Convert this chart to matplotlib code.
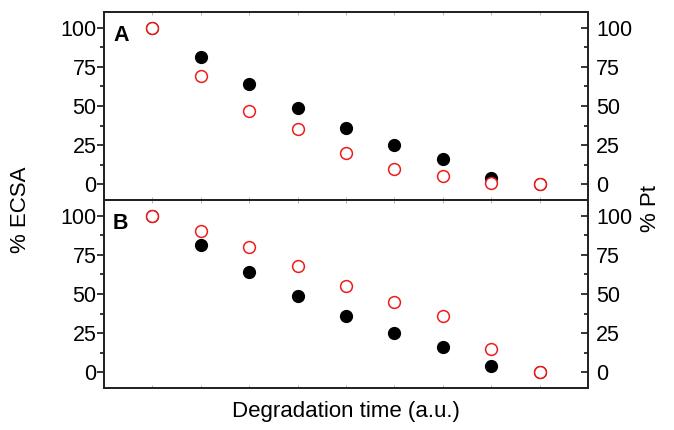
import numpy as np
import matplotlib.pyplot as plt
from matplotlib.ticker import MultipleLocator

plt.rcParams['font.family'] = ['Liberation Sans', 'DejaVu Sans']

# degradation steps (a.u.)
steps = [1, 2, 3, 4, 5, 6, 7, 8, 9]
# % ECSA (filled black), same in both panels
ecsa = [100, 81, 64, 49, 36, 25, 16, 4, 0]
# % Pt (open red)
pt_a = [100, 69, 47, 35, 20, 10, 5, 1, 0]
pt_b = [100, 90, 80, 68, 55, 45, 36, 15, 0]
panel_labels = ['A', 'B']

fig = plt.figure(figsize=(6.74, 4.30), dpi=100)
L, R = 104 / 674, 588 / 674
ax_top = fig.add_axes([L, 1 - 200 / 430, R - L, 188 / 430])
ax_bot = fig.add_axes([L, 1 - 388 / 430, R - L, 188 / 430])

for ax, pt, lab in zip([ax_top, ax_bot], [pt_a, pt_b], panel_labels):
    ax.plot(steps, ecsa, 'o', color='black', markersize=8.5, zorder=3)
    ax.plot(steps, pt, 'o', markerfacecolor='white', markeredgecolor='#ee1c1c',
            markeredgewidth=1.1, markersize=8.5, zorder=4)
    ax.set_xlim(0, 10)
    ax.set_ylim(-10, 110)
    ax.set_xticks(steps)
    ax.tick_params(axis='x', direction='in', length=2, width=0.6, color='#aaaaaa',
                   labelbottom=False, top=True)
    ax.yaxis.set_major_locator(MultipleLocator(25))
    ax.yaxis.set_minor_locator(MultipleLocator(12.5))
    ax.tick_params(axis='y', which='major', direction='out', length=4.8, width=1.1,
                   labelsize=15.5, pad=0.5)
    ax.tick_params(axis='y', which='minor', direction='out', length=2.7, width=1.1)

    # right-hand % Pt axis, ticks pointing inward
    axr = ax.twinx()
    axr.set_ylim(-10, 110)
    axr.yaxis.set_major_locator(MultipleLocator(25))
    axr.yaxis.set_minor_locator(MultipleLocator(12.5))
    axr.tick_params(axis='y', which='major', direction='in', length=4.8, width=1.1,
                    labelsize=15.5, pad=5.8)
    axr.tick_params(axis='y', which='minor', direction='in', length=2.7, width=1.1)

    for a in (ax, axr):
        for s in a.spines.values():
            s.set_linewidth(1.3)
            s.set_color('#222222')
    ax.text(0.0186, 0.875, lab, transform=ax.transAxes, fontsize=15.5,
            fontweight='bold', ha='left', va='center')

fig.text(20 / 674, 1 - 210 / 430, '% ECSA', rotation=90, fontsize=16,
         ha='center', va='center')
fig.text(650 / 674, 1 - 209 / 430, '% Pt', rotation=90, fontsize=16,
         ha='center', va='center')
fig.text(346 / 674, 1 - 412 / 430, 'Degradation time (a.u.)', fontsize=16,
         ha='center', va='center')

fig.savefig('out.png', dpi=100)
